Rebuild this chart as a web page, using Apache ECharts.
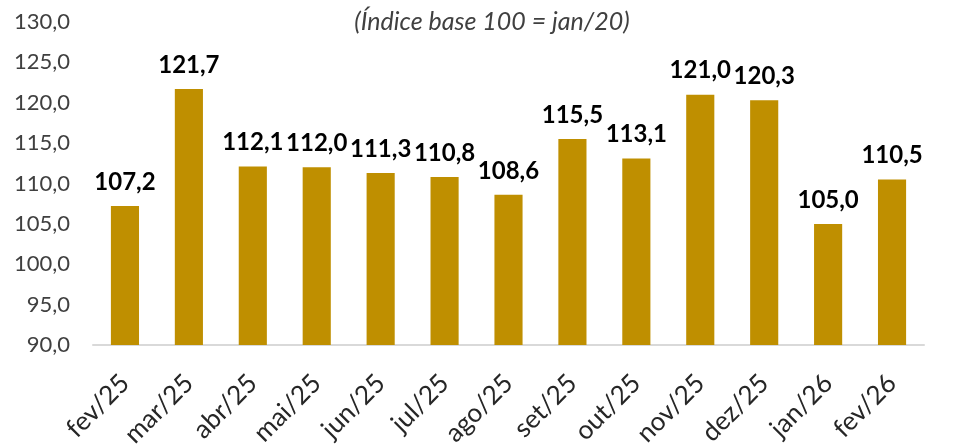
<!DOCTYPE html>
<html><head><meta charset="utf-8">
<script src="https://cdn.jsdelivr.net/npm/echarts@6/dist/echarts.min.js"></script>
<style>html,body{margin:0;padding:0;background:#fff}#c{width:965px;height:447px}</style>
</head><body><div id="c"></div>
<script>
const categories = ['fev/25','mar/25','abr/25','mai/25','jun/25','jul/25','ago/25','set/25','out/25','nov/25','dez/25','jan/26','fev/26'];
const values = [107.2,121.7,112.1,112.0,111.3,110.8,108.6,115.5,113.1,121.0,120.3,105.0,110.5];
const titleText = '(Índice base 100 = jan/20)';
const fmt = v => v.toFixed(1).replace('.', ',');
const chart = echarts.init(document.getElementById('c'));
chart.setOption({
  animation: false,
  textStyle: {fontFamily: 'Lato'},
  title: {text: titleText, left: 487, top: 4, textAlign: 'center',
    textStyle: {fontFamily: 'Lato', fontStyle: 'italic', fontWeight: 'normal', fontSize: 25, color: '#404040'}},
  grid: {left: 93, right: 41, top: 22, bottom: 102, outerBoundsMode: 'none', containLabel: false},
  xAxis: {type: 'category', data: categories,
    axisLine: {lineStyle: {color: '#d9d9d9', width: 2}},
    axisTick: {show: false},
    axisLabel: {rotate: 45, fontSize: 26, color: '#262626', fontFamily: 'Lato', margin: 34, interval: 0}},
  yAxis: {type: 'value', min: 90, max: 130, interval: 5,
    splitLine: {show: false}, axisLine: {show: false}, axisTick: {show: false},
    axisLabel: {formatter: v => fmt(v), fontSize: 22, color: '#404040', fontFamily: 'Lato', margin: 23}},
  series: [{type: 'bar', data: values, barWidth: '44%',
    itemStyle: {color: '#BF8F00'},
    label: {show: true, position: 'top', distance: 12, formatter: p => fmt(p.value),
      fontWeight: 'bold', fontSize: 24, color: '#000', fontFamily: 'Lato'}}]
});
</script></body></html>
